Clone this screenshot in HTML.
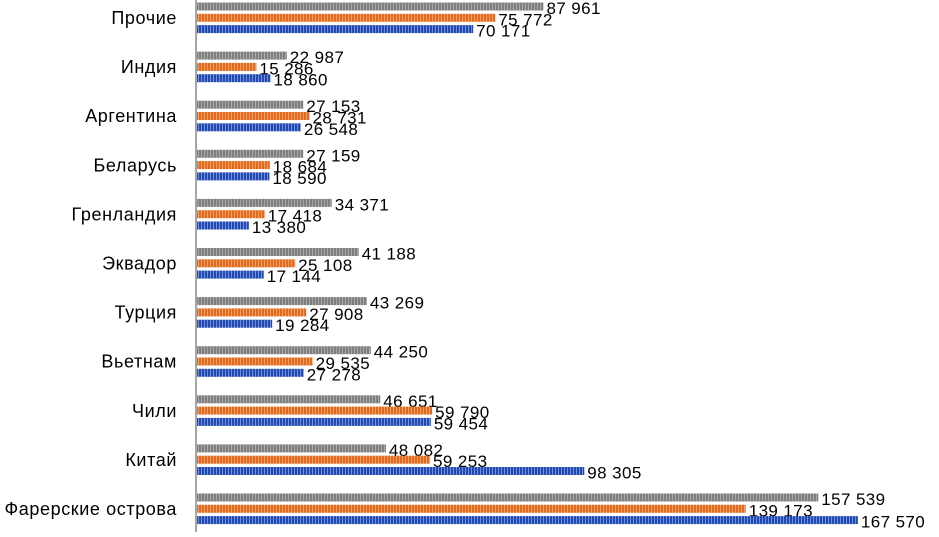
<!DOCTYPE html>
<html><head><meta charset="utf-8"><style>
body{margin:0;background:#fff;}
svg text{font-family:"Liberation Sans",sans-serif;}
</style></head><body>
<svg id="c" width="939" height="532" xmlns="http://www.w3.org/2000/svg">
<defs>
<pattern id="pg" width="3" height="8" patternUnits="userSpaceOnUse"><rect width="3" height="8" fill="#7f7f7f"/><rect width="1" height="8" fill="#a8a8a8"/></pattern>
<pattern id="po" width="3" height="8" patternUnits="userSpaceOnUse"><rect width="3" height="8" fill="#e06a20"/><rect width="1" height="8" fill="#f4a060"/></pattern>
<pattern id="pb" width="3" height="8" patternUnits="userSpaceOnUse"><rect width="3" height="8" fill="#244ab0"/><rect width="1" height="8" fill="#6f8fe0"/></pattern>
</defs>
</svg>
<script>
const categories=["Прочие","Индия","Аргентина","Беларусь","Гренландия","Эквадор","Турция","Вьетнам","Чили","Китай","Фарерские острова"];
const seriesGray=[87961,22987,27153,27159,34371,41188,43269,44250,46651,48082,157539];
const seriesOrange=[75772,15286,28731,18684,17418,25108,27908,29535,59790,59253,139173];
const seriesBlue=[70171,18860,26548,18590,13380,17144,19284,27278,59454,98305,167570];
const svg=document.getElementById('c');
const NS='http://www.w3.org/2000/svg';
const x0=196, k=0.00395;
const xs=v=>x0+v*k;
const yGroup=i=>3+i*49.1;
function fmt(v){return String(v).replace(/\B(?=(\d{3})+(?!\d))/g,' ');}
const axis=document.createElementNS(NS,'line');
axis.setAttribute('x1',x0);axis.setAttribute('x2',x0);axis.setAttribute('y1',0);axis.setAttribute('y2',532);
axis.setAttribute('stroke','#888');axis.setAttribute('stroke-width','1.5');


svg.appendChild(axis);
const series=[[seriesGray,'pg','gray'],[seriesOrange,'po','orange'],[seriesBlue,'pb','blue']];
categories.forEach((c,i)=>{
  const y=yGroup(i);
  const t=document.createElementNS(NS,'text');
  t.setAttribute('x',177);t.setAttribute('y',y+21);t.setAttribute('text-anchor','end');
  t.setAttribute('font-size','18');t.setAttribute('letter-spacing','0.6');t.setAttribute('fill','#000');
  t.textContent=c;
  
  
  svg.appendChild(t);
  series.forEach((s,j)=>{
    const v=s[0][i];
    const by=y+j*11.3;
    const r=document.createElementNS(NS,'rect');
    r.setAttribute('x',x0+1);r.setAttribute('y',by-0.5);r.setAttribute('width',xs(v)-x0-1);r.setAttribute('height',8);
    r.setAttribute('fill','url(#'+s[1]+')');
    
    
    svg.appendChild(r);
    const l=document.createElementNS(NS,'text');
    l.setAttribute('x',xs(v)+3);l.setAttribute('y',by+11);
    l.setAttribute('font-size','17');l.setAttribute('fill','#000');l.setAttribute('letter-spacing','0.4');
    l.textContent=fmt(v);
    
    
    svg.appendChild(l);
  });
});
</script>
</body></html>
